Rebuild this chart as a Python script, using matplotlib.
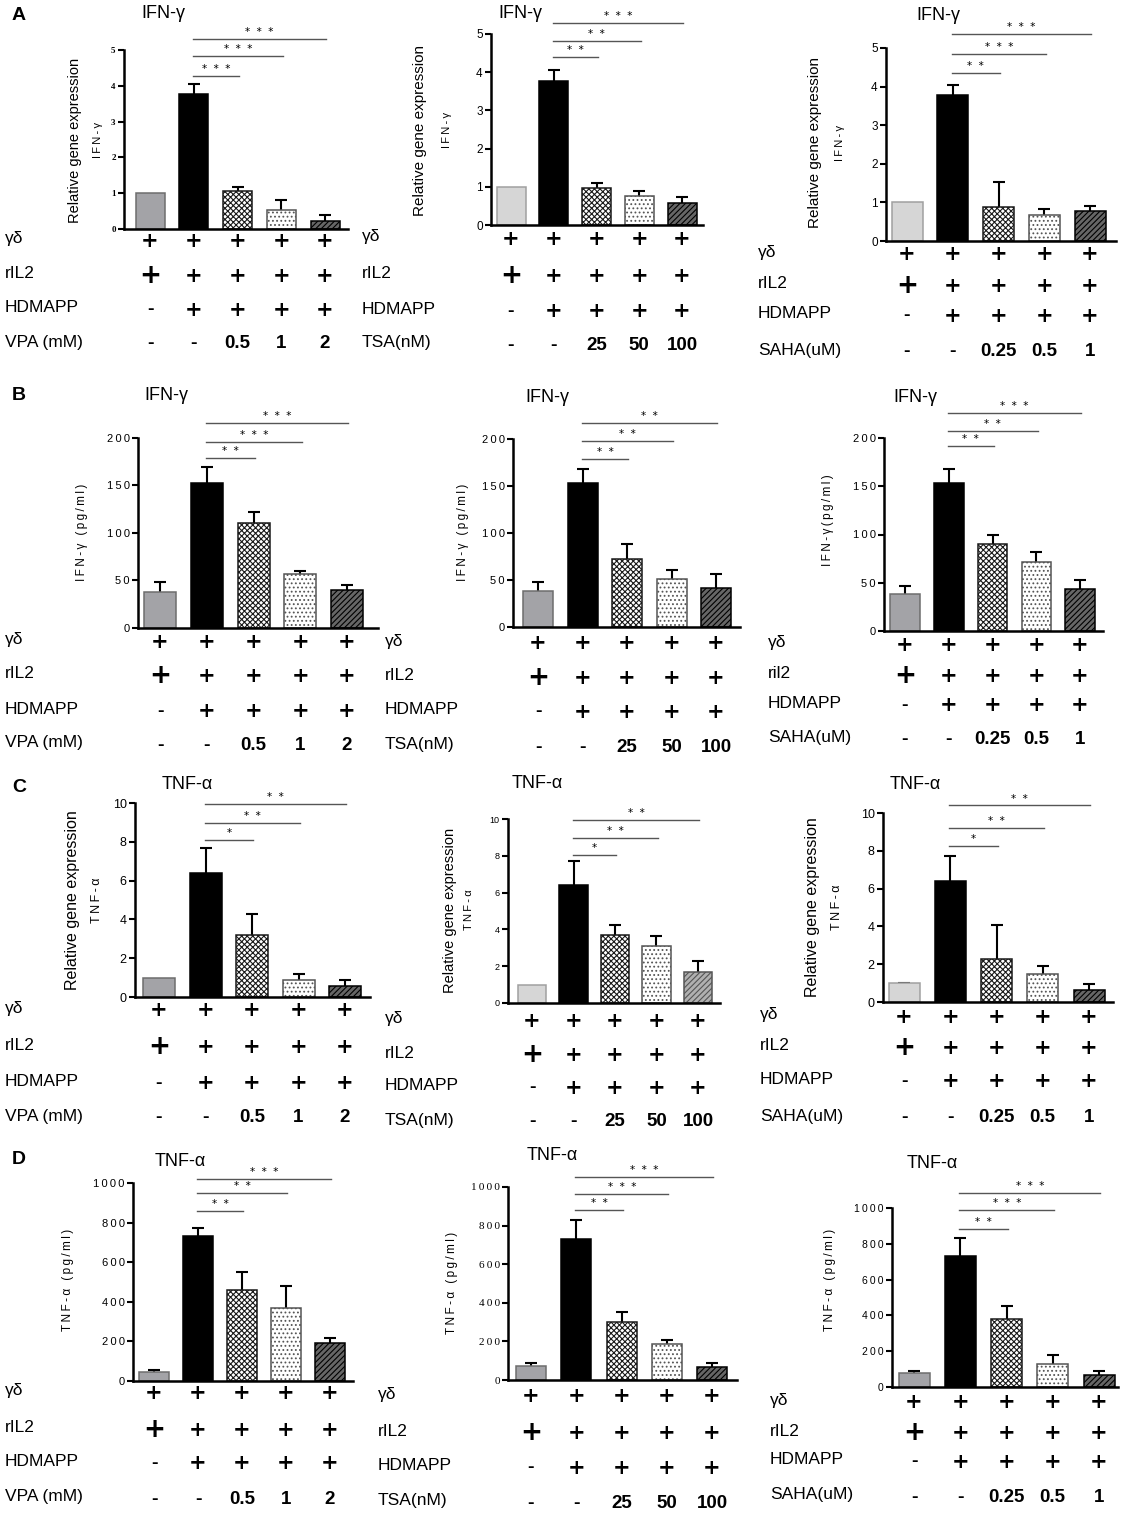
import matplotlib
matplotlib.use('Agg')
import matplotlib.pyplot as plt
from matplotlib import transforms
import numpy as np

plt.rcParams['font.family'] = ['Liberation Sans', 'DejaVu Sans']
plt.rcParams['hatch.linewidth'] = 0.8

W, H = 1127, 1516

# ------------------------------------------------------------------ data
row_gd = ['+', '+', '+', '+', '+']
row_il2 = ['+', '+', '+', '+', '+']
row_hdmapp = ['-', '+', '+', '+', '+']
drug_VPA = 'VPA (mM)'
drug_TSA = 'TSA(nM)'
drug_SAHA = 'SAHA(uM)'
doses_VPA = ['-', '-', '0.5', '1', '2']
doses_TSA = ['-', '-', '25', '50', '100']
doses_SAHA = ['-', '-', '0.25', '0.5', '1']

# A: IFN-γ relative gene expression
A_ticks = [0, 1, 2, 3, 4, 5]
A1_mean = [1.0, 3.77, 1.07, 0.53, 0.23]
A1_err = [0.0, 0.28, 0.11, 0.27, 0.15]
A1_sig_y = [4.27, 4.83, 5.30]
A1_sig = ['* * *', '* * *', '* * *']
A2_mean = [1.0, 3.77, 0.97, 0.75, 0.58]
A2_err = [0.0, 0.28, 0.13, 0.15, 0.15]
A2_sig_y = [4.40, 4.82, 5.29]
A2_sig = ['* *', '* *', '* * *']
A3_mean = [1.0, 3.77, 0.87, 0.67, 0.78]
A3_err = [0.0, 0.28, 0.65, 0.16, 0.12]
A3_sig_y = [4.35, 4.84, 5.36]
A3_sig = ['* *', '* * *', '* * *']

# B: IFN-γ (pg/ml)
B_ticks = [0, 50, 100, 150, 200]
B1_mean = [38, 153, 110, 57, 40]
B1_err = [10, 16, 12, 3, 5]
B1_sig_y = [179, 196, 216]
B1_sig = ['* *', '* * *', '* * *']
B2_mean = [38, 153, 72, 51, 41]
B2_err = [10, 15, 16, 10, 15]
B2_sig_y = [179, 198, 217]
B2_sig = ['* *', '* *', '* *']
B3_mean = [38, 153, 90, 71, 44]
B3_err = [9, 15, 10, 11, 9]
B3_sig_y = [192, 207, 226]
B3_sig = ['* *', '* *', '* * *']

# C: TNF-α relative gene expression
C_ticks = [0, 2, 4, 6, 8, 10]
C1_mean = [1.0, 6.4, 3.2, 0.9, 0.57]
C1_err = [0.0, 1.3, 1.1, 0.3, 0.31]
C1_sig_y = [8.09, 8.97, 9.95]
C1_sig = ['*', '* *', '* *']
C2_mean = [1.0, 6.4, 3.7, 3.1, 1.7]
C2_err = [0.0, 1.3, 0.55, 0.55, 0.6]
C2_sig_y = [8.04, 8.97, 9.95]
C2_sig = ['*', '* *', '* *']
C3_mean = [1.0, 6.4, 2.3, 1.5, 0.63]
C3_err = [0.02, 1.3, 1.75, 0.4, 0.3]
C3_sig_y = [8.25, 9.20, 10.40]
C3_sig = ['*', '* *', '* *']

# D: TNF-α (pg/ml)
D_ticks = [0, 200, 400, 600, 800, 1000]
D1_mean = [45, 730, 460, 370, 190]
D1_err = [13, 45, 90, 110, 28]
D1_sig_y = [859, 949, 1020]
D1_sig = ['* *', '* *', '* * *']
D2_mean = [75, 730, 300, 185, 65]
D2_err = [15, 100, 52, 20, 23]
D2_sig_y = [881, 964, 1052]
D2_sig = ['* *', '* * *', '* * *']
D3_mean = [78, 730, 380, 130, 68]
D3_err = [14, 100, 75, 50, 20]
D3_sig_y = [883, 989, 1084]
D3_sig = ['* *', '* * *', '* * *']

# ------------------------------------------------------------------ layout / styles
MID = ('#a3a3a7', '#6d6d6d')
LIGHT = ('#d6d6d6', '#a0a0a0')
TH = '\u2009'
RGE = 'Relative gene expression'


def spaced(s):
    return TH.join(list(s))


panels = [
    dict(mean=A1_mean, err=A1_err, sig_y=A1_sig_y, sig=A1_sig, ticks=A_ticks, ymax=5,
         drug=drug_VPA, doses=doses_VPA, il2='rIL2',
         box=(124, 348, 229, 50), c=(150, 325), bw=29, bar1=MID,
         title=(163, 14, 'IFN-γ'), letter=(12, 15, 'A'),
         ylab=[(75, RGE, 10.5), (98, spaced('IFN-γ'), 8)], ycy=140,
         rows=[241, 276, 310, 344], rlx=5, tickfont=('Liberation Serif', 'bold', 6.5, False)),
    dict(mean=A2_mean, err=A2_err, sig_y=A2_sig_y, sig=A2_sig, ticks=A_ticks, ymax=5,
         drug=drug_TSA, doses=doses_TSA, il2='rIL2',
         box=(491, 703, 225, 34), c=(511, 682), bw=29, bar1=LIGHT,
         title=(520, 13, 'IFN-γ'), letter=None,
         ylab=[(420, RGE, 11), (447, spaced('IFN-γ'), 8)], ycy=130,
         rows=[239, 276, 311, 345], rlx=362, tickfont=('Liberation Sans', 'normal', 8.5, False)),
    dict(mean=A3_mean, err=A3_err, sig_y=A3_sig_y, sig=A3_sig, ticks=A_ticks, ymax=5,
         drug=drug_SAHA, doses=doses_SAHA, il2='rIL2',
         box=(886, 1116, 241, 48), c=(907, 1090), bw=31, bar1=LIGHT,
         title=(938, 15, 'IFN-γ'), letter=None,
         ylab=[(815, RGE, 11), (840, spaced('IFN-γ'), 8)], ycy=143,
         rows=[254, 286, 316, 352], rlx=758, tickfont=('Liberation Sans', 'normal', 8.5, False)),
    dict(mean=B1_mean, err=B1_err, sig_y=B1_sig_y, sig=B1_sig, ticks=B_ticks, ymax=200,
         drug=drug_VPA, doses=doses_VPA, il2='rIL2',
         box=(138, 378, 628, 438), c=(160, 347), bw=32, bar1=MID,
         title=(166, 395, 'IFN-γ'), letter=(12, 395, 'B'),
         ylab=[(82, spaced('IFN-γ (pg/ml)'), 8.5)], ycy=532,
         rows=[642, 676, 711, 745], rlx=5, tickfont=('Liberation Sans', 'normal', 8, True)),
    dict(mean=B2_mean, err=B2_err, sig_y=B2_sig_y, sig=B2_sig, ticks=B_ticks, ymax=200,
         drug=drug_TSA, doses=doses_TSA, il2='rIL2',
         box=(513, 740, 627, 439), c=(538, 716), bw=30, bar1=MID,
         title=(547, 398, 'IFN-γ'), letter=None,
         ylab=[(463, spaced('IFN-γ (pg/ml)'), 8.5)], ycy=532,
         rows=[643, 678, 712, 747], rlx=385, tickfont=('Liberation Sans', 'normal', 8, True)),
    dict(mean=B3_mean, err=B3_err, sig_y=B3_sig_y, sig=B3_sig, ticks=B_ticks, ymax=200,
         drug=drug_SAHA, doses=doses_SAHA, il2='ril2',
         box=(884, 1103, 631, 438), c=(905, 1080), bw=29.5, bar1=MID,
         title=(915, 397, 'IFN-γ'), letter=None,
         ylab=[(828, spaced('IFN-γ(pg/ml)'), 8.5)], ycy=520,
         rows=[645, 676, 705, 740], rlx=768, tickfont=('Liberation Sans', 'normal', 8, True)),
    dict(mean=C1_mean, err=C1_err, sig_y=C1_sig_y, sig=C1_sig, ticks=C_ticks, ymax=10,
         drug=drug_VPA, doses=doses_VPA, il2='rIL2',
         box=(135, 370, 997, 803), c=(159, 345), bw=32, bar1=MID,
         title=(187, 785, 'TNF-α'), letter=(12, 787, 'C'),
         ylab=[(72, RGE, 11.5), (97, spaced('TNF-α'), 9)], ycy=900,
         rows=[1010, 1047, 1083, 1118], rlx=5, tickfont=('Liberation Sans', 'normal', 9, False)),
    dict(mean=C2_mean, err=C2_err, sig_y=C2_sig_y, sig=C2_sig, ticks=C_ticks, ymax=10,
         drug=drug_TSA, doses=doses_TSA, il2='rIL2',
         box=(508, 720, 1003, 819), c=(532, 698), bw=28.5, bar1=LIGHT,
         title=(537, 784, 'TNF-α'), letter=None,
         ylab=[(450, RGE, 10.5), (469, spaced('TNF-α'), 8)], ycy=910,
         rows=[1021, 1055, 1088, 1122], rlx=385, tickfont=('Liberation Sans', 'normal', 6.5, False),
         grey5=True),
    dict(mean=C3_mean, err=C3_err, sig_y=C3_sig_y, sig=C3_sig, ticks=C_ticks, ymax=10,
         drug=drug_SAHA, doses=doses_SAHA, il2='rIL2',
         box=(883, 1113, 1002, 813), c=(904, 1089), bw=31, bar1=LIGHT,
         title=(915, 785, 'TNF-α'), letter=None,
         ylab=[(812, RGE, 11.5), (837, spaced('TNF-α'), 9)], ycy=907,
         rows=[1017, 1048, 1081, 1118], rlx=760, tickfont=('Liberation Sans', 'normal', 9, False)),
    dict(mean=D1_mean, err=D1_err, sig_y=D1_sig_y, sig=D1_sig, ticks=D_ticks, ymax=1000,
         drug=drug_VPA, doses=doses_VPA, il2='rIL2',
         box=(133, 353, 1381, 1183), c=(154, 330), bw=30, bar1=MID,
         title=(180, 1162, 'TNF-α'), letter=(12, 1160, 'D'),
         ylab=[(68, spaced('TNF-α (pg/ml)'), 8.5)], ycy=1280,
         rows=[1393, 1430, 1463, 1499], rlx=5, tickfont=('Liberation Sans', 'normal', 8, True)),
    dict(mean=D2_mean, err=D2_err, sig_y=D2_sig_y, sig=D2_sig, ticks=D_ticks, ymax=1000,
         drug=drug_TSA, doses=doses_TSA, il2='rIL2',
         box=(508, 737, 1380, 1187), c=(531, 712), bw=30, bar1=MID,
         title=(552, 1155, 'TNF-α'), letter=None,
         ylab=[(452, spaced('TNF-α (pg/ml)'), 8.5)], ycy=1283,
         rows=[1396, 1433, 1468, 1503], rlx=378, tickfont=('Liberation Serif', 'normal', 8, True)),
    dict(mean=D3_mean, err=D3_err, sig_y=D3_sig_y, sig=D3_sig, ticks=D_ticks, ymax=1000,
         drug=drug_SAHA, doses=doses_SAHA, il2='rIL2',
         box=(892, 1118, 1387, 1208), c=(914, 1099), bw=31, bar1=MID,
         title=(932, 1163, 'TNF-α'), letter=None,
         ylab=[(830, spaced('TNF-α (pg/ml)'), 8.5)], ycy=1280,
         rows=[1402, 1433, 1462, 1497], rlx=770, tickfont=('Liberation Sans', 'normal', 7.5, True)),
]

fig = plt.figure(figsize=(W / 100, H / 100), dpi=100)


def fy(p):
    return 1 - p / H


for P in panels:
    left, right, y0, ytop = P['box']
    c0, c4 = P['c']
    ax = fig.add_axes([left / W, 1 - y0 / H, (right - left) / W, (y0 - ytop) / H])
    sp = (c4 - c0) / 4.0
    ax.set_xlim(-(c0 - left) / sp, 4 + (right - c4) / sp)
    ax.set_ylim(0, P['ymax'])
    x = np.arange(5)
    mean = np.array(P['mean'], float)
    err = np.array(P['err'], float)
    bw = P['bw'] / sp

    faces = [P['bar1'][0], 'black', 'white', 'white', '#666666']
    edges = [P['bar1'][1], 'black', '#1a1a1a', '#555555', 'black']
    hatches = [None, None, 'xxxxxx', '....', '//////']
    if P.get('grey5'):
        faces[4] = '#b0b0b0'
        edges[4] = '#555555'
    bars = ax.bar(x, mean, width=bw, zorder=2, linewidth=1.1)
    for b, f, e, h in zip(bars, faces, edges, hatches):
        b.set_facecolor(f)
        b.set_edgecolor(e)
        if h:
            b.set_hatch(h)

    m = err > 0
    eb = ax.errorbar(x[m], mean[m], yerr=[np.zeros(m.sum()), err[m]], fmt='none',
                     ecolor='black', elinewidth=1.5, capsize=4.5, capthick=1.5, zorder=1)
    if len(eb[1]) == 2:
        eb[1][0].set_visible(False)

    # significance brackets
    for k, (hy, lab) in enumerate(zip(P['sig_y'], P['sig'])):
        tgt = k + 2
        ax.plot([0.98, tgt + 0.03], [hy, hy], color='#555555', lw=1.0, clip_on=False, zorder=3)
        ax.text((0.98 + tgt + 0.03) / 2, hy + P['ymax'] * 0.01, lab.replace(' ', '  '),
                ha='center', va='bottom', fontsize=7.5, clip_on=False, family=['DejaVu Sans'])

    # axes style
    for s in ['top', 'right']:
        ax.spines[s].set_visible(False)
    ax.spines['left'].set_linewidth(1.8)
    ax.spines['bottom'].set_linewidth(1.8)
    ax.set_xticks([])
    ax.set_yticks(P['ticks'])
    fam, wt, fs, spc = P['tickfont']
    labs = [spaced(str(t)) if spc else str(t) for t in P['ticks']]
    ax.set_yticklabels(labs, family=[fam, 'DejaVu Sans'], fontweight=wt, fontsize=fs)
    ax.tick_params(axis='y', length=4, width=1.5, pad=2)
    ax.set_facecolor('none')

    # titles / letters
    tx, ty, tt = P['title']
    fig.text(tx / W, fy(ty), tt, ha='center', va='center', fontsize=13)
    if P['letter']:
        lx, ly, lt = P['letter']
        fig.text(lx / W, fy(ly), lt, ha='left', va='center', fontsize=14, fontweight='bold')
    for (lx, txt, fs) in P['ylab']:
        fig.text(lx / W, fy(P['ycy']), txt, rotation=90, ha='center', va='center', fontsize=fs)

    # treatment table
    trans = transforms.blended_transform_factory(ax.transData, fig.transFigure)
    rows = P['rows']
    labels = ['γδ', P['il2'], 'HDMAPP', P['drug']]
    contents = [row_gd, row_il2, row_hdmapp, P['doses']]
    for r, (ry, lab, cont) in enumerate(zip(rows, labels, contents)):
        fig.text(P['rlx'] / W, fy(ry - 2), lab, ha='left', va='center', fontsize=12.5)
        for i, t in enumerate(cont):
            size = 15
            if r == 1 and i == 0:
                size = 19
            if t == '-':
                size = 14
            if r == 3 and t != '-':
                size = 13.5
            ax.text(i, fy(ry), t, transform=trans, ha='center', va='center',
                    fontsize=size, fontweight='bold', clip_on=False,
                    family=['DejaVu Sans'] if t == '+' else ['Liberation Sans'])

fig.savefig('out.png', dpi=100)
